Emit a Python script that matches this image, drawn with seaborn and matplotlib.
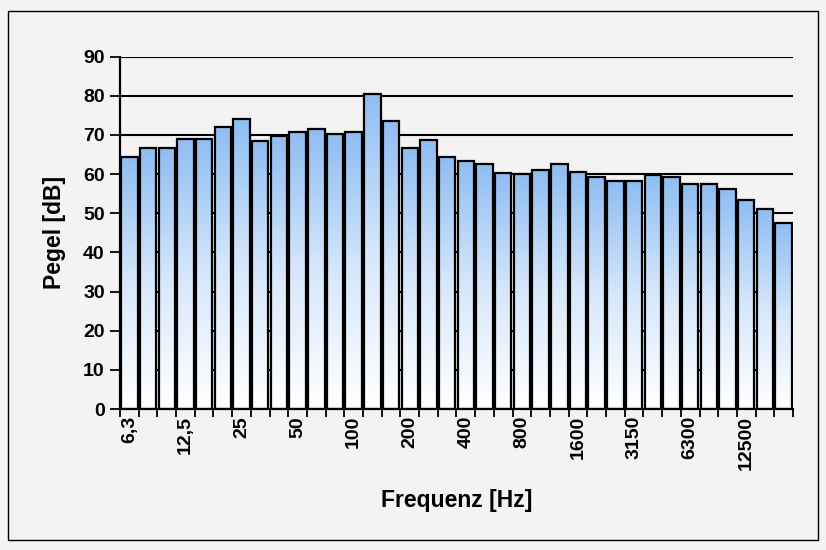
import numpy as np
import pandas as pd
import matplotlib
matplotlib.use("Agg")
import matplotlib.pyplot as plt
import matplotlib.patches as mpatches
from matplotlib.colors import LinearSegmentedColormap
import seaborn as sns

# Third-octave band centre frequencies and measured levels
bands = ["6,3", "8", "10", "12,5", "16", "20", "25", "31,5", "40", "50",
         "63", "80", "100", "125", "160", "200", "250", "315", "400", "500",
         "630", "800", "1000", "1250", "1600", "2000", "2500", "3150", "4000",
         "5000", "6300", "8000", "10000", "12500", "16000", "20000"]
levels = [64.3, 66.6, 66.6, 69.0, 69.0, 72.1, 74.1, 68.5, 69.7, 70.8,
          71.6, 70.2, 70.8, 80.5, 73.7, 66.7, 68.6, 64.3, 63.4, 62.6,
          60.2, 60.0, 61.0, 62.6, 60.6, 59.3, 58.2, 58.2, 59.8, 59.3,
          57.4, 57.4, 56.1, 53.3, 51.0, 47.4]
octave_labels = bands[::3]
y_ticks = [0, 10, 20, 30, 40, 50, 60, 70, 80, 90]

sns.set_theme(style="white")
plt.rcParams["font.family"] = ["Liberation Sans", "DejaVu Sans"]
plt.rcParams.update({
    "font.weight": "bold",
    "text.color": "black",
    "axes.labelcolor": "black",
    "xtick.color": "black",
    "ytick.color": "black",
})

bg = "#f3f3f3"
fig = plt.figure(figsize=(8.26, 5.5), dpi=100, facecolor=bg)
# Outer chart-area frame
frame = mpatches.Rectangle((8 / 826, 1 - 540 / 550), 810 / 826, 529 / 550,
                           transform=fig.transFigure, facecolor="none",
                           edgecolor="black", linewidth=1.0, zorder=10)
fig.add_artist(frame)

ax = fig.add_axes([120 / 826, 1 - 409 / 550, 673 / 826, (409 - 56.7) / 550])
ax.set_facecolor("none")

df = pd.DataFrame({"Frequenz": bands, "Pegel": levels})
sns.barplot(data=df, x="Frequenz", y="Pegel", order=bands, width=0.88,
            color="white", edgecolor="black", linewidth=1.6, saturation=1, ax=ax)

# Vertical white-to-blue gradient inside each bar
cmap = LinearSegmentedColormap.from_list("blu", ["#ffffff", "#d6e7fb", "#8fbdf2"])
grad = np.linspace(0, 1, 256).reshape(-1, 1)
for p in list(ax.patches):
    x0, w, h = p.get_x(), p.get_width(), p.get_height()
    p.set_facecolor("none")
    p.set_zorder(3)
    im = ax.imshow(grad, extent=[x0, x0 + w, 0, h], origin="lower", cmap=cmap,
                   aspect="auto", zorder=2, interpolation="bicubic")
    im.set_clip_path(p)

ax.set_xlim(-0.5, len(bands) - 0.5)
ax.set_ylim(0, 90)
ax.set_yticks(y_ticks)
ax.set_yticklabels([str(v) for v in y_ticks], fontsize=14, fontweight="bold")
ax.set_xticks(np.arange(0, len(bands), 3))
ax.set_xticklabels(octave_labels, rotation=90, fontsize=14, fontweight="bold")
ax.set_xticks(np.arange(-0.5, len(bands), 1), minor=True)
ax.tick_params(axis="x", which="major", length=0, pad=5)
ax.tick_params(axis="x", which="minor", length=6, width=1.3, color="black",
               direction="out", bottom=True)
ax.tick_params(axis="y", length=7, width=1.3, color="black", direction="out",
               left=True, pad=4)

for yv in y_ticks[1:]:
    ax.axhline(yv, color="black", linewidth=1.5, zorder=1)

for s in ["top", "right"]:
    ax.spines[s].set_visible(False)
for s in ["left", "bottom"]:
    ax.spines[s].set_color("black")
    ax.spines[s].set_linewidth(1.6)
    ax.spines[s].set_zorder(4)

ax.set_xlabel("Frequenz [Hz]", fontsize=16.5, fontweight="bold", labelpad=14)
ax.set_ylabel("Pegel [dB]", fontsize=16.5, fontweight="bold", labelpad=12)

fig.savefig("out.png", dpi=100, facecolor=fig.get_facecolor())
